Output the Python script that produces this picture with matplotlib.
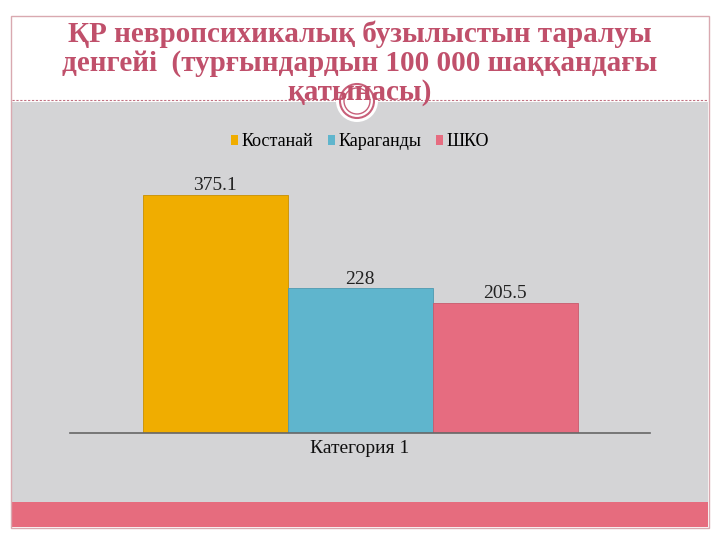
import matplotlib
matplotlib.use("Agg")
from matplotlib import pyplot as plt
from matplotlib.patches import Rectangle, Ellipse
from matplotlib.lines import Line2D

# data
series = ["Костанай", "Караганды", "ШКО"]
values = [375.1, 228, 205.5]
colors = ["#F0AD00", "#5FB5CD", "#E66C80"]
category = "Категория 1"
title = "ҚР невропсихикалық бузылыстын таралуы\nденгейі  (турғындардын 100 000 шаққандағы\nқатынасы)"

W, H = 720, 540

def fx(x):
    return x / W

def fy(y):
    return 1 - y / H

fig = plt.figure(figsize=(7.2, 5.4), dpi=100)
fig.patch.set_facecolor("white")

# slide decoration
fig.add_artist(Rectangle((fx(12), fy(502)), fx(696), 400 / H, transform=fig.transFigure,
                         facecolor="#D4D4D6", edgecolor="none", zorder=0))
fig.add_artist(Rectangle((fx(12), fy(527)), fx(696), 25 / H, transform=fig.transFigure,
                         facecolor="#E66C7E", edgecolor="none", zorder=0))
fig.add_artist(Rectangle((fx(11), fy(528)), fx(698), 512 / H, transform=fig.transFigure,
                         facecolor="none", edgecolor="#D9A9B0", lw=1, zorder=1))
fig.add_artist(Line2D([fx(12), fx(708)], [fy(100), fy(100)], transform=fig.transFigure,
                      color="#C07080", lw=0.8, ls=(0, (2, 1.5)), zorder=1))
for r, fc, ec, lw in [(21, "white", "none", 0), (17, "none", "#C8607A", 1.5), (13, "none", "#C8607A", 1.0)]:
    fig.add_artist(Ellipse((fx(357), fy(101)), 2 * r / W, 2 * r / H, transform=fig.transFigure,
                           facecolor=fc, edgecolor=ec, lw=lw, zorder=2))

fig.text(0.5, fy(63), title, ha="center", va="center", fontsize=21, fontweight="bold",
         family="Liberation Serif", color="#C0506B", linespacing=1.08, zorder=4)

# chart
ax = fig.add_axes([fx(70), fy(433), fx(580), 273 / H])
ax.set_facecolor("none")
x = [-1, 0, 1]
ax.bar(x, values, width=1.0, color=colors, edgecolor=["#C89000", "#4E9AB0", "#C85A6C"],
       linewidth=0.6)
for xi, v in zip(x, values):
    ax.text(xi, v + 1, "%g" % v, ha="center", va="bottom", fontsize=14,
            family="Liberation Serif", color="#222222")
ax.set_xlim(-2, 2)
ax.set_ylim(0, 430)
for s in ["top", "right", "left"]:
    ax.spines[s].set_visible(False)
ax.spines["bottom"].set_color("#666666")
ax.spines["bottom"].set_linewidth(1.2)
ax.set_yticks([])
ax.set_xticks([0])
ax.set_xticklabels([category], fontsize=14, family="Liberation Serif", color="#111111")
ax.tick_params(axis="x", length=0, pad=5)

handles = [Rectangle((0, 0), 1, 1, facecolor=c, edgecolor="none") for c in colors]
fig.legend(handles, series, loc="center", bbox_to_anchor=(0.5, fy(142)), ncol=3, frameon=False,
           prop={"family": "Liberation Serif", "size": 13}, handlelength=0.4, handleheight=0.4,
           handletextpad=0.2, columnspacing=0.8)

fig.savefig("out.png", dpi=100)
